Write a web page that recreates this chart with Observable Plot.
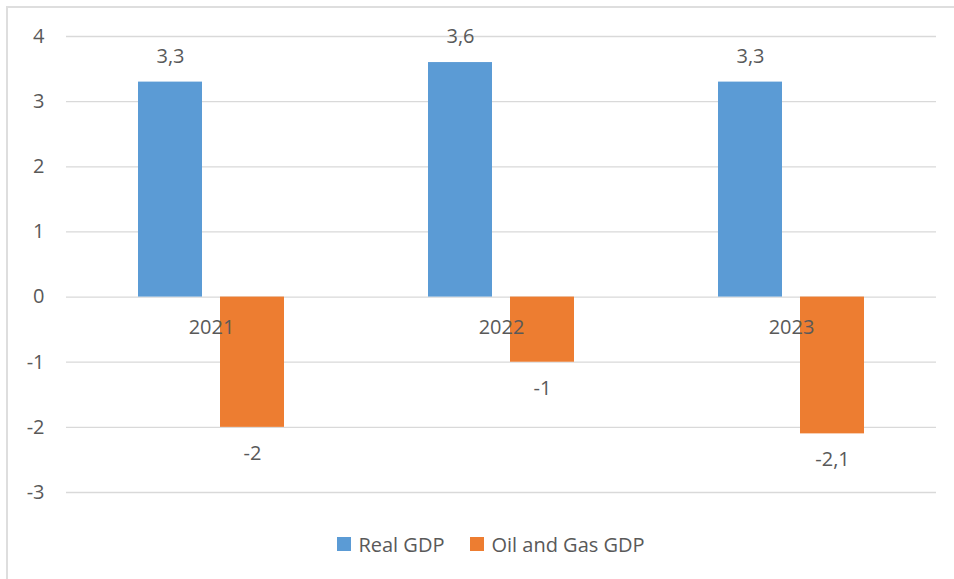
<!DOCTYPE html>
<html>
<head>
<meta charset="utf-8">
<script src="https://cdn.jsdelivr.net/npm/d3@7"></script>
<script src="https://cdn.jsdelivr.net/npm/@observablehq/plot@0.6"></script>
<style>
  html, body { margin: 0; padding: 0; background: #fff; overflow: hidden; width: 954px; height: 579px; }
  #frame { position: absolute; left: 6px; top: 6px; width: 980px; height: 600px; border: 2px solid #dedede; box-sizing: border-box; z-index: 2; pointer-events: none; }
  #chart { position: absolute; left: 0; top: 0; }
  #legend { position: absolute; left: 14px; top: 530px; width: 954px; height: 28px; display: flex; justify-content: center; align-items: center; font-family: "Open Sans", sans-serif; font-size: 20px; color: #595959; }
  .item { display: flex; align-items: center; margin: 0 13px; }
  .sw { width: 14px; height: 14px; margin-right: 7px; }
</style>
</head>
<body>
<div id="frame"></div>
<div id="chart"></div>
<div id="legend"></div>
<script>
const years = ["2021", "2022", "2023"];
const seriesNames = ["Real GDP", "Oil and Gas GDP"];
const realGDP = [3.3, 3.6, 3.3];
const oilGasGDP = [-2, -1, -2.1];
const colors = ["#5B9BD5", "#ED7D31"];
const yTicks = [-3, -2, -1, 0, 1, 2, 3, 4];

const data = [];
years.forEach((y, i) => {
  data.push({year: y, series: seriesNames[0], value: realGDP[i]});
  data.push({year: y, series: seriesNames[1], value: oilGasGDP[i]});
});
const yearData = years.map(y => ({year: y}));
const fmt = v => String(v).replace(".", ",");
const textColor = "#595959";
const font = "Open Sans, sans-serif";

const chart = Plot.plot({
  width: 954,
  height: 520,
  marginLeft: 65,
  marginRight: 17,
  marginTop: 36,
  marginBottom: 28,
  style: {fontFamily: font, fontSize: "20px", color: textColor, background: "transparent"},
  fx: {domain: years, padding: 0, axis: null},
  x: {domain: seriesNames, paddingInner: 0.217, paddingOuter: 0.86, axis: null},
  y: {domain: [-3, 4], axis: null},
  color: {domain: seriesNames, range: colors},
  marks: [
    Plot.ruleY(yTicks, {stroke: "#d9d9d9", strokeWidth: 1.3, strokeOpacity: 1}),
    Plot.axisY({ticks: yTicks, tickSize: 0, tickPadding: 22, tickFormat: d => String(d), label: null, fontSize: 20, fill: textColor, facetAnchor: "left", anchor: "left"}),
    Plot.barY(data, {fx: "year", x: "series", y: "value", fill: "series"}),
    Plot.text(data.filter(d => d.value >= 0), {fx: "year", x: "series", y: "value", text: d => fmt(d.value), dy: -26, fontSize: 20, fill: textColor}),
    Plot.text(data.filter(d => d.value < 0), {fx: "year", x: "series", y: "value", text: d => fmt(d.value), dy: 26, fontSize: 20, fill: textColor}),
    Plot.text(yearData, {fx: "year", y: () => 0, text: "year", dy: 31, fontSize: 20, fill: textColor})
  ]
});
document.getElementById("chart").appendChild(chart);

const legend = document.getElementById("legend");
seriesNames.forEach((name, i) => {
  const item = document.createElement("div");
  item.className = "item";
  const sw = document.createElement("div");
  sw.className = "sw";
  sw.style.background = colors[i];
  const label = document.createElement("span");
  label.textContent = name;
  item.appendChild(sw);
  item.appendChild(label);
  legend.appendChild(item);
});
</script>
</body>
</html>
